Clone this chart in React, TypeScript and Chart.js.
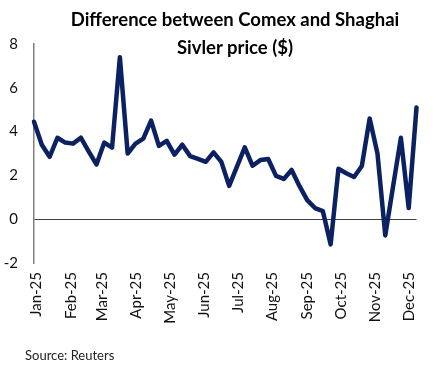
import React, { useEffect, useRef } from "react";
import { Chart, registerables } from "chart.js";

Chart.register(...registerables);

const weekDates = [
  "2024-12-30", "2025-01-06", "2025-01-13", "2025-01-20", "2025-01-27",
  "2025-02-03", "2025-02-10", "2025-02-17", "2025-02-24", "2025-03-03",
  "2025-03-10", "2025-03-17", "2025-03-24", "2025-03-31", "2025-04-07",
  "2025-04-14", "2025-04-21", "2025-04-28", "2025-05-05", "2025-05-12",
  "2025-05-19", "2025-05-26", "2025-06-02", "2025-06-09", "2025-06-16",
  "2025-06-23", "2025-06-30", "2025-07-07", "2025-07-14", "2025-07-21",
  "2025-07-28", "2025-08-04", "2025-08-11", "2025-08-18", "2025-08-25",
  "2025-09-01", "2025-09-08", "2025-09-15", "2025-09-22", "2025-09-29",
  "2025-10-06", "2025-10-13", "2025-10-20", "2025-10-27", "2025-11-03",
  "2025-11-10", "2025-11-17", "2025-11-24", "2025-12-01", "2025-12-08",
];

const spreadValues = [
  4.45, 3.4, 2.85, 3.72, 3.5, 3.45, 3.72, 3.1, 2.5, 3.5,
  3.27, 7.4, 3.0, 3.45, 3.68, 4.5, 3.35, 3.58, 2.95, 3.4,
  2.88, 2.75, 2.62, 3.05, 2.62, 1.52, 2.4, 3.28, 2.44, 2.7,
  2.75, 1.98, 1.84, 2.25, 1.52, 0.87, 0.51, 0.37, -1.15, 2.3,
  2.1, 1.93, 2.43, 4.6, 3.0, -0.74, 1.5, 3.72, 0.51, 5.1,
];

const monthStarts = [
  "2025-01-01", "2025-02-01", "2025-03-01", "2025-04-01", "2025-05-01", "2025-06-01",
  "2025-07-01", "2025-08-01", "2025-09-01", "2025-10-01", "2025-11-01", "2025-12-01",
];
const monthLabels = [
  "Jan-25", "Feb-25", "Mar-25", "Apr-25", "May-25", "Jun-25",
  "Jul-25", "Aug-25", "Sep-25", "Oct-25", "Nov-25", "Dec-25",
];

const yTicks = [-2, 0, 2, 4, 6, 8];

const titleLines = ["Difference between Comex and Shaghai", "Sivler price ($)"];
const sourceText = "Source: Reuters";

const dayNum = (s: string) =>
  (Date.parse(s + "T00:00:00Z") - Date.parse("2025-01-01T00:00:00Z")) / 86400000;

export default function App() {
  const canvasRef = useRef<HTMLCanvasElement | null>(null);

  useEffect(() => {
    if (!canvasRef.current) return;
    const tickFont = { family: "Lato, 'DejaVu Sans', sans-serif", size: 15 };
    const chart = new Chart(canvasRef.current, {
      type: "line",
      data: {
        datasets: [
          {
            data: weekDates.map((d, i) => ({ x: dayNum(d), y: spreadValues[i] })),
            borderColor: "#0b2161",
            borderWidth: 4.5,
            pointRadius: 0,
            tension: 0,
            clip: false,
            borderJoinStyle: "round",
            borderCapStyle: "round",
          },
        ],
      },
      options: {
        responsive: false,
        animation: false,
        devicePixelRatio: 1,
        layout: { padding: { top: 44, right: 15, left: 0, bottom: 0 } },
        plugins: { legend: { display: false }, tooltip: { enabled: false }, title: { display: false } },
        scales: {
          x: {
            type: "linear",
            min: dayNum(weekDates[0]),
            max: dayNum(weekDates[weekDates.length - 1]),
            afterBuildTicks: (s: any) => {
              s.ticks = monthStarts.map((d) => ({ value: dayNum(d) }));
            },
            afterFit: (s: any) => {
              s.height = 104;
            },
            ticks: {
              autoSkip: false,
              minRotation: 90,
              maxRotation: 90,
              padding: 9,
              font: tickFont,
              color: "#111",
              callback: (v: any) => {
                const i = monthStarts.findIndex((d) => dayNum(d) === v);
                return i >= 0 ? monthLabels[i] : "";
              },
            },
            grid: { display: false, drawTicks: false },
            border: { display: false },
          },
          y: {
            min: -2,
            max: 8,
            afterBuildTicks: (s: any) => {
              s.ticks = yTicks.map((v) => ({ value: v }));
            },
            afterFit: (s: any) => {
              s.width = 34;
            },
            ticks: { padding: 16, font: tickFont, color: "#111" },
            grid: {
              drawTicks: false,
              lineWidth: 1,
              color: (ctx: any) => (ctx.tick && ctx.tick.value === 0 ? "#404040" : "rgba(0,0,0,0)"),
            },
            border: { display: true, color: "#808080", width: 1.5 },
          },
        },
      },
    } as any);
    return () => chart.destroy();
  }, []);

  return (
    <div style={{ position: "absolute", left: 0, top: 0, width: 436, height: 367, background: "#fff" }}>
      <canvas ref={canvasRef} width={436} height={367} style={{ display: "block", width: 436, height: 367 }} />
      <div
        style={{
          position: "absolute",
          left: 35,
          top: 5,
          width: 400,
          textAlign: "center",
          fontFamily: "Lato, 'DejaVu Sans', sans-serif",
          fontWeight: 700,
          fontSize: 18.5,
          lineHeight: "28px",
          color: "#000",
        }}
      >
        {titleLines.map((t) => (
          <div key={t}>{t}</div>
        ))}
      </div>
      <div
        style={{
          position: "absolute",
          left: 25,
          top: 347,
          fontFamily: "Lato, 'DejaVu Sans', sans-serif",
          fontSize: 13,
          lineHeight: "16px",
          color: "#222",
        }}
      >
        {sourceText}
      </div>
    </div>
  );
}
